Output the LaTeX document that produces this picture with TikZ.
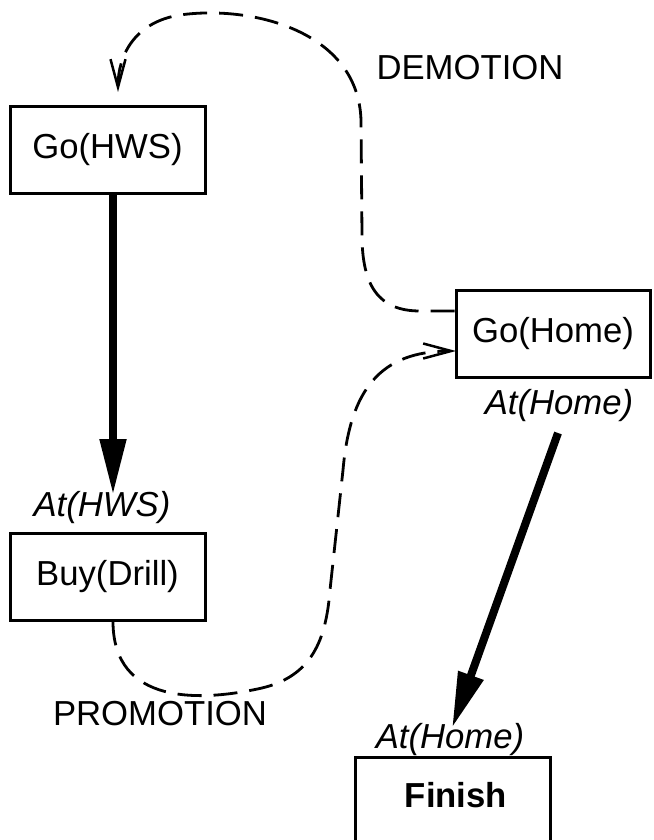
\documentclass[tikz,border=0pt]{standalone}
\usepackage{fontspec}
\setmainfont{Liberation Sans}
\usetikzlibrary{arrows.meta}
\begin{document}
\begin{tikzpicture}[x=1pt,y=-1pt,
  font=\fontsize{34.7}{40}\selectfont,
  box/.style={draw,line width=3pt,inner sep=0pt,anchor=center},
  thick arrow/.style={line width=8pt,-{Triangle[length=56pt,width=25pt]}},
  dashcurve/.style={line width=2.8pt,dash pattern=on 24pt off 12pt,-{Straight Barb[length=28pt,width=15pt,line width=2.5pt]}},
  lbl/.style={inner sep=0pt,anchor=center},
  cond/.style={inner sep=0pt,anchor=center,font=\fontsize{34.7}{40}\selectfont\itshape}]
\useasboundingbox (0,0) rectangle (653,840);
\clip (0,0) rectangle (653,840);
% boxes
\node[box,minimum width=195pt,minimum height=86pt] (gohws) at (107.5,150) {Go(HWS)};
\node[box,minimum width=195pt,minimum height=87pt] (buy) at (107.5,576.5) {Buy(Drill)};
\node[box,minimum width=194pt,minimum height=87pt] (gohome) at (553,333.5) {Go(Home)};
\node[box,minimum width=195pt,minimum height=110pt] (finish) at (452.5,812) {};
\node[lbl,font=\fontsize{34.7}{40}\selectfont\bfseries] (fintext) at (456,795) {Finish};
% conditions
\node[cond] (athws) at (102,508) {At(HWS)};
\node[cond] (athome1) at (559,406) {At(Home)};
\node[cond] (athome2) at (450,740) {At(Home)};
% labels
\node[lbl] (demo) at (470,68) {DEMOTION};
\node[lbl] (promo) at (160,714) {PROMOTION};
% thick arrows
\coordinate (t1) at (113,495);
\coordinate (s2) at (558,433);
\coordinate (t2) at (452,728);
\draw[thick arrow] (gohws.south -| t1) -- (t1);
\draw[thick arrow] (s2) -- (t2);
% dashed connectors
\coordinate (demend) at (118,92);
\coordinate (promend) at (456,351);
\draw[dashcurve] (gohome.west |- 0,311) -- (420,311)
  .. controls (378,311) and (362,285) .. (362,235)
  -- (361,120)
  .. controls (358,30) and (250,5) .. (180,15)
  .. controls (135,22) and (118,55) .. (demend);
\draw[dashcurve] (buy.south -| 113,0) .. controls (113,705) and (200,702) .. (262,688)
  .. controls (312,676) and (326,640) .. (330,590)
  -- (343,470)
  .. controls (350,390) and (380,351) .. (promend);
\end{tikzpicture}
\end{document}
